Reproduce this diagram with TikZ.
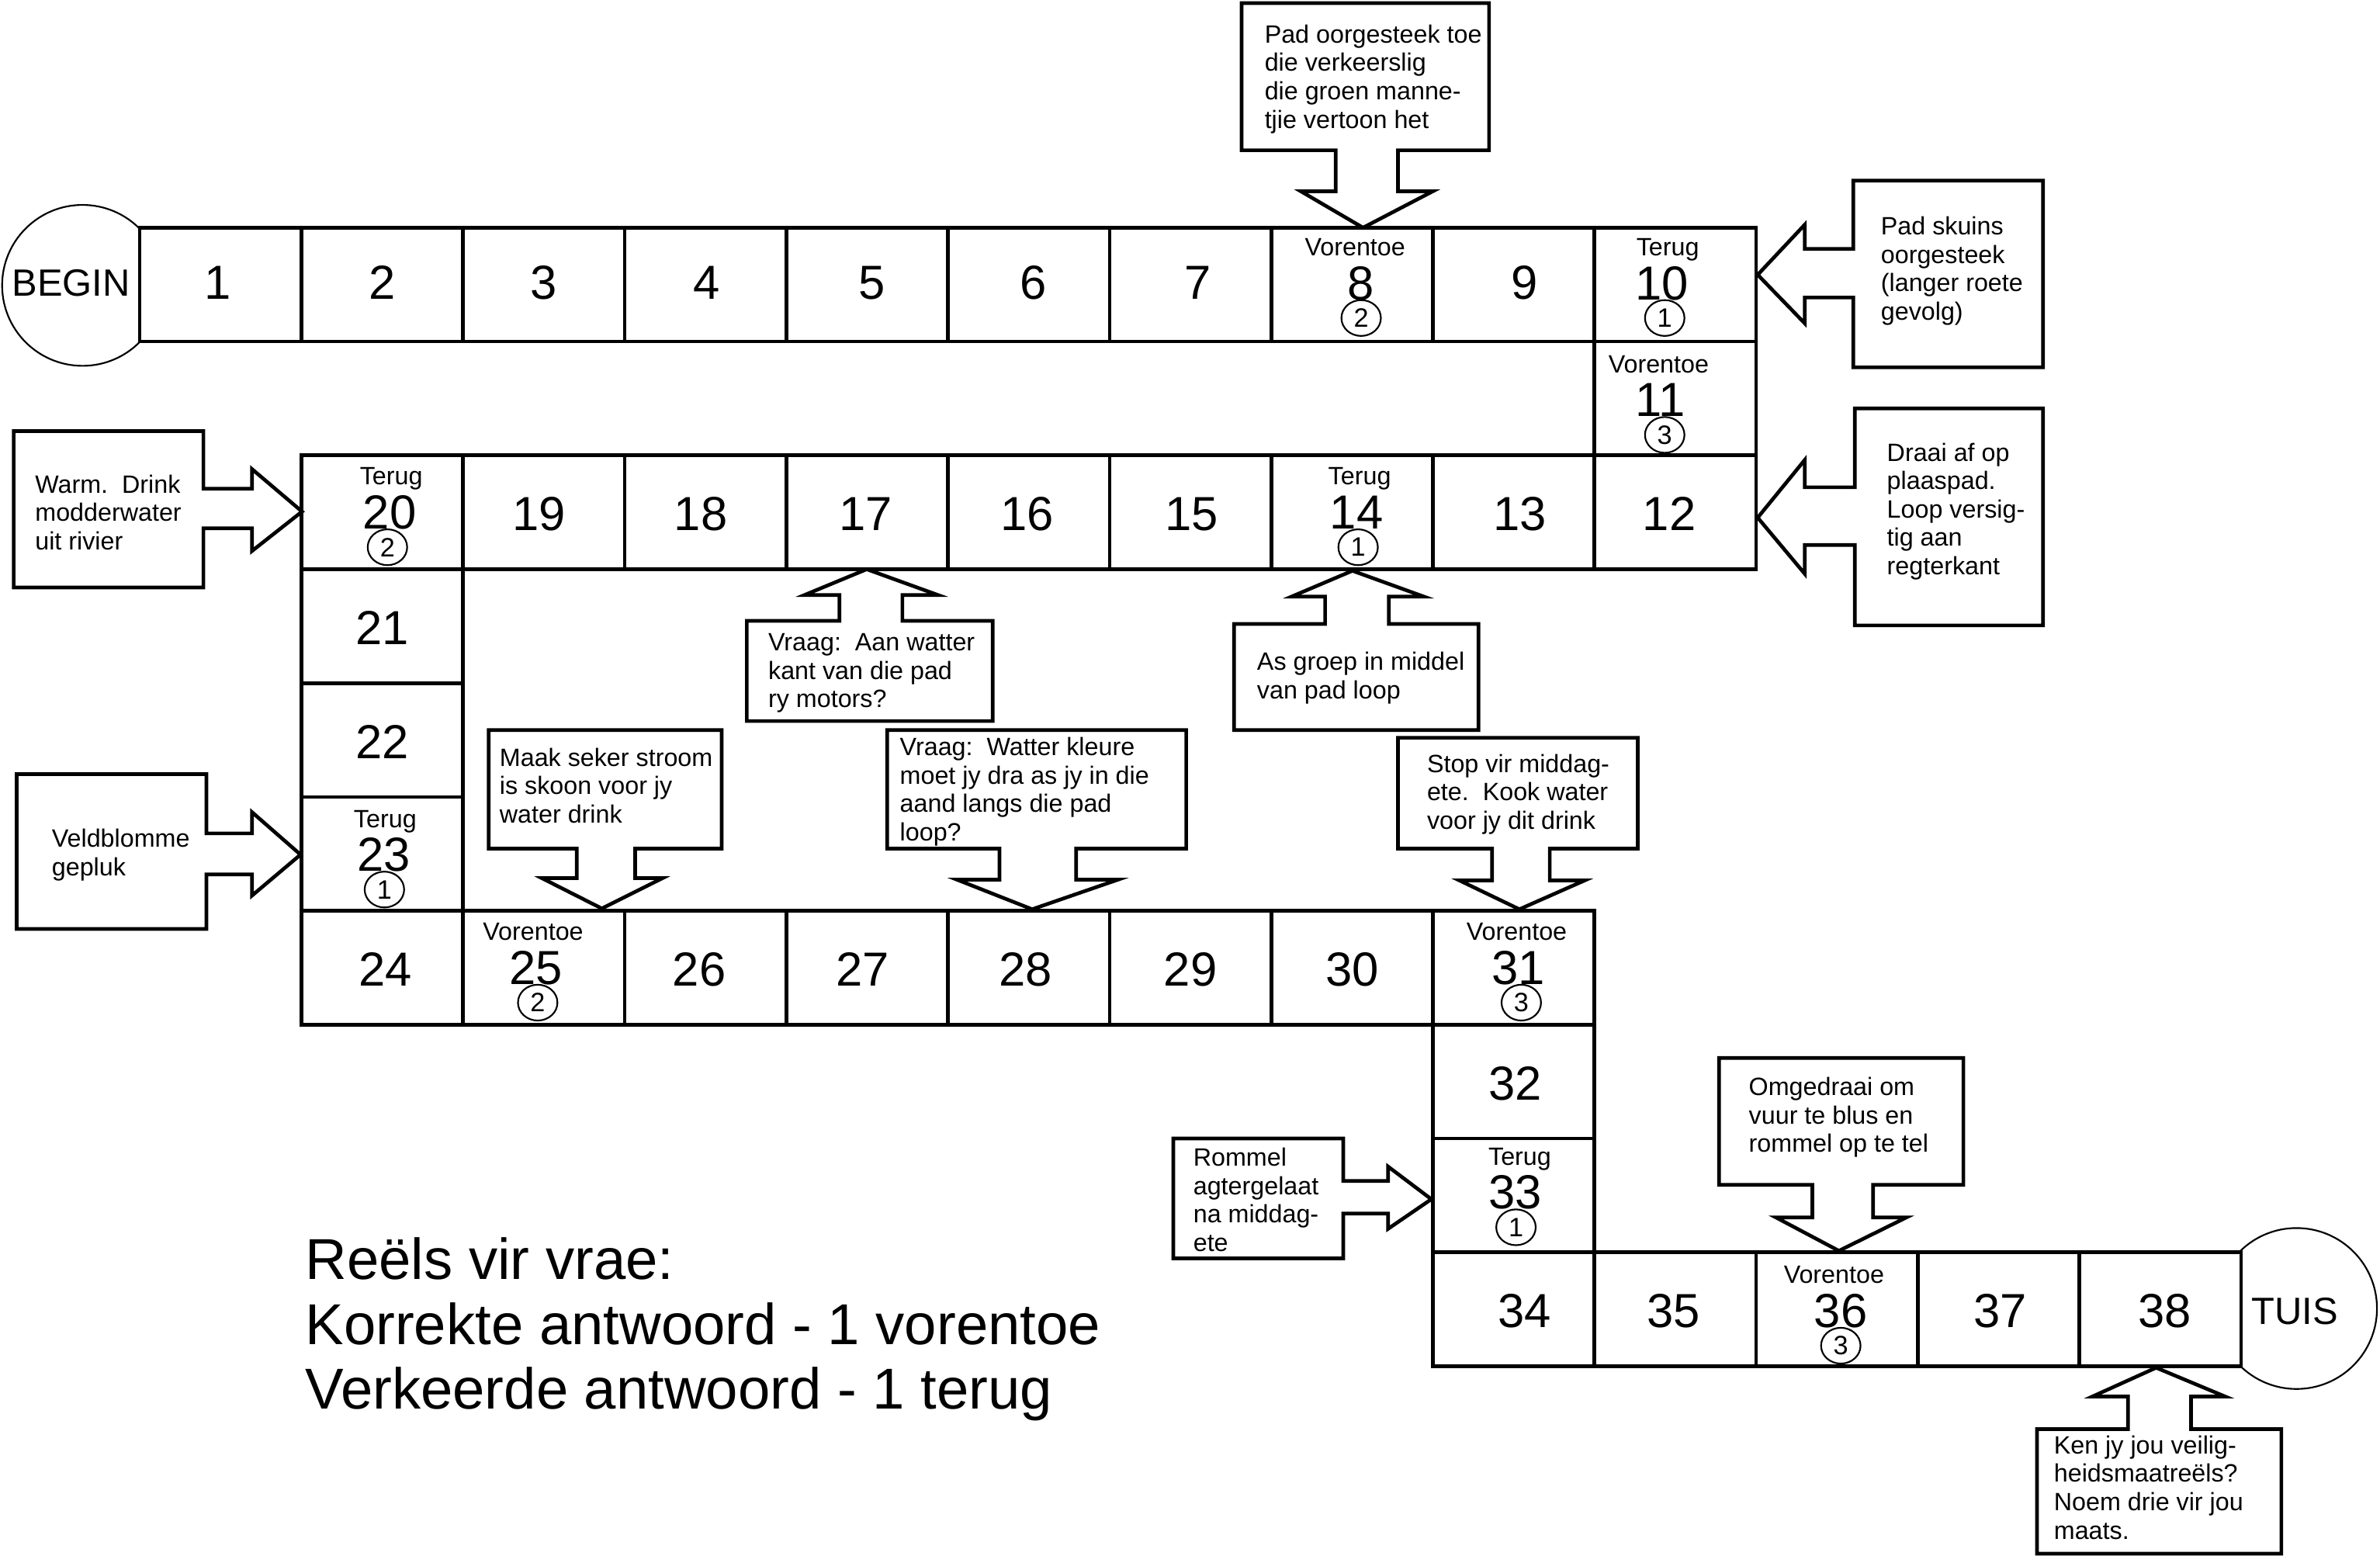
\documentclass[tikz,border=0pt]{standalone}
\usepackage{fontspec}
\setmainfont{Liberation Sans}
\usetikzlibrary{shapes.geometric}

\tikzset{
  cellsty/.style={draw, fill=white, line width=2.4pt, minimum width=106.5pt, minimum height=75pt, inner sep=0pt, outer sep=0pt},
  callout/.style={draw, line width=2.4pt, line join=miter},
  bignum/.style={font=\fontsize{31.5}{36}\selectfont, inner sep=0pt, anchor=base},
  tag/.style={font=\fontsize{16.5}{18.7}\selectfont, inner sep=0pt, anchor=base},
  ring/.style={draw, ellipse, line width=1.1pt, minimum width=26pt, minimum height=23.6pt, inner sep=0pt, font=\fontsize{17.5}{20}\selectfont},
  calltxt/.style={font=\fontsize{16.5}{18.7}\selectfont, inner sep=0pt, anchor=north west, align=left},
  endcirc/.style={draw, circle, line width=1.1pt, minimum size=106pt, inner sep=0pt},
  endtxt/.style={font=\fontsize{25}{28}\selectfont, inner sep=0pt, anchor=base},
}

% plain cell: number, i, j, dx, baseline offset
\newcommand\pcell[5]{%
  \node[cellsty] (c#1) at ({145.25+106.5*(#2)},{187.5+75*(#3)}) {};
  \node[bignum] (n#1) at ({145.25+106.5*(#2)+(#4)},{150+75*(#3)+(#5)}) {#1};
}
% labelled cell: number, i, j, label, ring digit, label dx, num dx, ring dx, dy
\newcommand\scell[9]{%
  \node[cellsty] (c#1) at ({145.25+106.5*(#2)},{187.5+75*(#3)}) {};
  \node[tag] (t#1) at ({145.25+106.5*(#2)+(#6)},{150+75*(#3)+19.5+(#9)}) {#4};
  \node[bignum] (n#1) at ({145.25+106.5*(#2)+(#7)},{150+75*(#3)+48.5+(#9)}) {#1};
  \node[ring] (r#1) at ({145.25+106.5*(#2)+(#8)},{150+75*(#3)+60.5+(#9)}) {#5};
}
% callout text: name, left x, first baseline, text
\newcommand\calltext[4]{%
  \node[calltxt] (#1) at ({#2},{#3-13.09}) {\strut #4};
}

\begin{document}
\begin{tikzpicture}[x=1pt,y=-1pt]
\useasboundingbox (0,0) rectangle (1568,1025);

% start and end
\node[endcirc] (begin) at (54.4,188) {};
\node[endtxt] (begintxt) at (46.8,195) {BEGIN};
\node[endcirc] (tuis) at (1513,862) {};
\node[endtxt] (tuistxt) at (1512,872.5) {TUIS};

% board
\pcell{1}{0}{0}{-2}{47}
\pcell{2}{1}{0}{0}{47}
\pcell{3}{2}{0}{0}{47}
\pcell{4}{3}{0}{1}{47}
\pcell{5}{4}{0}{3}{47}
\pcell{6}{5}{0}{3}{47}
\pcell{7}{6}{0}{5}{47}
\scell{8}{7}{0}{Vorentoe}{2}{2}{6}{6}{-1}
\pcell{9}{8}{0}{7}{47}
\scell{10}{9}{0}{Terug}{1}{-5}{-9}{-7}{-1}
\scell{11}{9}{1}{Vorentoe}{3}{-11}{-10}{-7}{1}
\pcell{12}{9}{2}{-4}{49.5}
\pcell{13}{8}{2}{4}{49.5}
\scell{14}{7}{2}{Terug}{1}{5}{3}{4}{0}
\pcell{15}{6}{2}{1}{49.5}
\pcell{16}{5}{2}{-1}{49.5}
\pcell{17}{4}{2}{-1}{49.5}
\pcell{18}{3}{2}{-3}{49.5}
\pcell{19}{2}{2}{-3}{49.5}
\scell{20}{1}{2}{Terug}{2}{6}{5}{3.5}{0}
\pcell{21}{1}{3}{0}{49.5}
\pcell{22}{1}{4}{0}{49.5}
\scell{23}{1}{5}{Terug}{1}{2}{1}{1.5}{0.5}
\pcell{24}{1}{6}{2}{49.5}
\scell{25}{2}{6}{Vorentoe}{2}{-7}{-5}{-4}{0}
\pcell{26}{3}{6}{-4}{49.5}
\pcell{27}{4}{6}{-3}{49.5}
\pcell{28}{5}{6}{-2}{49.5}
\pcell{29}{6}{6}{0}{49.5}
\pcell{30}{7}{6}{0}{49.5}
\scell{31}{8}{6}{Vorentoe}{3}{2}{3}{5}{0}
\pcell{32}{8}{7}{1}{49.5}
\scell{33}{8}{8}{Terug}{1}{4}{1}{1.5}{-2}
\pcell{34}{8}{9}{7}{49.5}
\pcell{35}{9}{9}{-1}{49.5}
\scell{36}{10}{9}{Vorentoe}{3}{-2}{2.5}{2.5}{1}
\pcell{37}{11}{9}{1}{49.5}
\pcell{38}{12}{9}{3}{49.5}

% callout A (to 8)
\draw[callout] (818,2) -- (981,2) -- (981,99) -- (921,99) -- (921,126) -- (944,126) -- (898,150) -- (857,126) -- (880,126) -- (880,99) -- (818,99) -- cycle;
\calltext{ta}{833}{28.1}{Pad oorgesteek toe\\die verkeerslig\\die groen manne-\\tjie vertoon het}

% callout B (to 10)
\draw[callout] (1346,119) -- (1346,242) -- (1221,242) -- (1221,196) -- (1189,196) -- (1189,213) -- (1158,181) -- (1189,148) -- (1189,164) -- (1221,164) -- (1221,119) -- cycle;
\calltext{tb}{1239}{154.5}{Pad skuins\\oorgesteek\\(langer roete\\gevolg)}

% callout C (to 12)
\draw[callout] (1346,269) -- (1346,412) -- (1222,412) -- (1222,359) -- (1189,359) -- (1189,378) -- (1158,341) -- (1189,303) -- (1189,321) -- (1222,321) -- (1222,269) -- cycle;
\calltext{tc}{1243}{303.6}{Draai af op\\plaaspad.\\Loop versig-\\tig aan\\regterkant}

% callout D (to 20)
\draw[callout] (9,284) -- (134,284) -- (134,322) -- (166,322) -- (166,309) -- (199,337) -- (166,363) -- (166,348) -- (134,348) -- (134,387) -- (9,387) -- cycle;
\calltext{td}{23}{324.5}{Warm.\ \ Drink\\modderwater\\uit rivier}

% callout E (to 23)
\draw[callout] (11,510) -- (136,510) -- (136,549) -- (166,549) -- (166,535) -- (198,563) -- (166,590) -- (166,576) -- (136,576) -- (136,612) -- (11,612) -- cycle;
\calltext{te}{34}{558}{Veldblomme\\gepluk}

% callout F (to 17)
\draw[callout] (492,409) -- (553,409) -- (553,392) -- (530,392) -- (571,375) -- (618,392) -- (594.5,392) -- (594.5,409) -- (654,409) -- (654,475) -- (492,475) -- cycle;
\calltext{tf}{506}{428.5}{Vraag:\ \ Aan watter\\kant van die pad\\ry motors?}

% callout G (to 14)
\draw[callout] (813,411) -- (873,411) -- (873,393) -- (851,393) -- (891,376) -- (938,393) -- (915,393) -- (915,411) -- (974,411) -- (974,481) -- (813,481) -- cycle;
\calltext{tg}{828}{441.5}{As groep in middel\\van pad loop}

% callout H (to 28)
\draw[callout] (584.5,481) -- (781.5,481) -- (781.5,559) -- (709,559) -- (709,579.5) -- (736.5,579.5) -- (680,599) -- (630.5,579.5) -- (658.5,579.5) -- (658.5,559) -- (584.5,559) -- cycle;
\calltext{th}{592.7}{497.5}{Vraag:\ \ Watter kleure\\moet jy dra as jy in die\\aand langs die pad\\loop?}

% callout I (to 31)
\draw[callout] (921,486) -- (1079,486) -- (1079,559) -- (1021,559) -- (1021,580) -- (1044,580) -- (1001,599) -- (961.5,580) -- (983,580) -- (983,559) -- (921,559) -- cycle;
\calltext{ti}{940}{508.5}{Stop vir middag-\\ete.\ \ Kook water\\voor jy dit drink}

% callout J (to 25)
\draw[callout] (322,481) -- (475.5,481) -- (475.5,559) -- (418.5,559) -- (418.5,578.5) -- (436.5,578.5) -- (396.5,598.5) -- (357,578.5) -- (380,578.5) -- (380,559) -- (322,559) -- cycle;
\calltext{tj}{329}{504.5}{Maak seker stroom\\is skoon voor jy\\water drink}

% callout K (to 36)
\draw[callout] (1132.5,697) -- (1293.5,697) -- (1293.5,780.5) -- (1234,780.5) -- (1234,802) -- (1256,802) -- (1211.5,824) -- (1170,802) -- (1194,802) -- (1194,780.5) -- (1132.5,780.5) -- cycle;
\calltext{tk}{1152}{721.5}{Omgedraai om\\vuur te blus en\\rommel op te tel}

% callout L (to 33)
\draw[callout] (773,750) -- (885,750) -- (885,778) -- (914.5,778) -- (914.5,768.5) -- (943,790) -- (914.5,809.5) -- (914.5,799.5) -- (885,799.5) -- (885,829) -- (773,829) -- cycle;
\calltext{tl}{786}{768}{Rommel\\agtergelaat\\na middag-\\ete}

% callout M (to 38)
\draw[callout] (1420.5,901) -- (1466,920) -- (1443.5,920) -- (1443.5,941.5) -- (1503,941.5) -- (1503,1023.5) -- (1342,1023.5) -- (1342,941.5) -- (1402,941.5) -- (1402,920) -- (1378.5,920) -- cycle;
\calltext{tm}{1353}{957.5}{Ken jy jou veilig-\\heidsmaatreëls?\\Noem drie vir jou\\maats.}

% rules
\node[font=\fontsize{38}{42.7}\selectfont, inner sep=0pt, anchor=north west, align=left] (rules) at (201,{842.6-29.89}) {\strut Reëls vir vrae:\\Korrekte antwoord - 1 vorentoe\\Verkeerde antwoord - 1 terug};
\end{tikzpicture}
\end{document}
